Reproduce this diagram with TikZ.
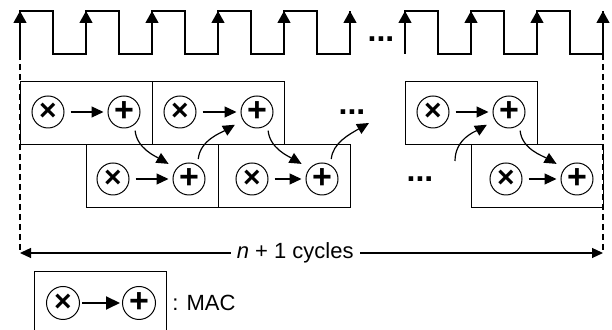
\documentclass[tikz,border=0pt]{standalone}
\usepackage{fontspec}
\setmainfont{Liberation Sans}
\usetikzlibrary{arrows.meta}

\begin{document}
\begin{tikzpicture}[
    x=0.5pt, y=0.5pt,
    font=\fontsize{11}{13}\selectfont,
    wave/.style={line width=0.6pt},
    rise/.style={line width=0.6pt, -{Triangle[length=6pt,width=6.5pt]}},
    guide/.style={line width=0.6pt, dash pattern=on 3pt off 2pt},
    span/.style={line width=0.6pt, {Triangle[length=5.5pt,width=5pt]}-{Triangle[length=5.5pt,width=5pt]}},
    mac/.style={draw, line width=0.5pt, minimum width=66pt, minimum height=31.5pt, inner sep=0pt},
    op/.style={circle, draw, line width=0.5pt, minimum size=16pt, inner sep=0pt},
    opmul/.style={op, font=\fontsize{15}{15}\selectfont\bfseries},
    opadd/.style={op, font=\fontsize{17}{17}\selectfont\bfseries},
    flow/.style={line width=0.6pt, -{Triangle[length=6pt,width=5.5pt]}, shorten <=3pt, shorten >=2pt},
    carry/.style={line width=0.6pt, -{Triangle[length=6pt,width=5.5pt]}, shorten <=3pt, shorten >=4.5pt},
    ellip/.style={font=\fontsize{16}{16}\selectfont\bfseries, inner sep=0pt}
]
\useasboundingbox (0,0) rectangle (612,330);

% hodiny
\draw[wave] (20,276) -- (20,319) -- (53,319) -- (53,276) -- (86,276) -- (86,319)
  -- (119,319) -- (119,276) -- (152,276) -- (152,319) -- (185,319) -- (185,276)
  -- (218,276) -- (218,319) -- (251,319) -- (251,276) -- (284,276) -- (284,319)
  -- (317,319) -- (317,276) -- (350,276) -- (350,319);
\draw[wave] (405,276) -- (405,319) -- (438,319) -- (438,276) -- (471,276) -- (471,319)
  -- (504,319) -- (504,276) -- (537,276) -- (537,319) -- (570,319) -- (570,276)
  -- (603,276) -- (603,319);
\draw[rise] (20,276) -- (20,319);
\draw[rise] (86,276) -- (86,319);
\draw[rise] (152,276) -- (152,319);
\draw[rise] (218,276) -- (218,319);
\draw[rise] (284,276) -- (284,319);
\draw[rise] (350,276) -- (350,319);
\draw[rise] (405,276) -- (405,319);
\draw[rise] (471,276) -- (471,319);
\draw[rise] (537,276) -- (537,319);
\draw[rise] (603,276) -- (603,319);
\node[ellip] (clkdots) at (381,291) {...};

% hranice
\coordinate (gl) at (20,276);
\coordinate (gr) at (603,276);
\coordinate (dl) at (20,77);
\coordinate (dr) at (603,77);
\draw[guide] (gl) -- (dl);
\draw[guide] (gr) -- (dr);
\draw[span] (dl) -- node[fill=white, pos=0.472, inner sep=3pt] (cyc) {\textit{n} + 1 cycles} (dr);

% MAC bloky
\node[mac] (m1) at (86,216.5) {};
\node[mac] (m2) at (218,216.5) {};
\node[mac] (m3) at (152,153.5) {};
\node[mac] (m4) at (284,153.5) {};
\node[mac] (m5) at (471,216.5) {};
\node[mac] (m6) at (537,153.5) {};

\node[opmul] (m1x) at (48,218) {×};
\node[opadd] (m1p) at (124,218) {+};
\node[opmul] (m2x) at (180,218) {×};
\node[opadd] (m2p) at (257,218) {+};
\node[opmul] (m3x) at (113,151) {×};
\node[opadd] (m3p) at (189,151) {+};
\node[opmul] (m4x) at (252,151) {×};
\node[opadd] (m4p) at (322,151) {+};
\node[opmul] (m5x) at (433,218) {×};
\node[opadd] (m5p) at (509,218) {+};
\node[opmul] (m6x) at (506,151) {×};
\node[opadd] (m6p) at (577,151) {+};

\draw[flow] (m1x) -- (m1p);
\draw[flow] (m2x) -- (m2p);
\draw[flow] (m3x) -- (m3p);
\draw[flow] (m4x) -- (m4p);
\draw[flow] (m5x) -- (m5p);
\draw[flow] (m6x) -- (m6p);

% prenosy medzi blokmi
\coordinate (f1) at (369,207);
\coordinate (f2) at (455,169);
\draw[carry] (m1p.-50) to[out=-85, in=150] (m3p.140);
\draw[carry] (m3p.58) to[out=85, in=-150] (m2p.-150);
\draw[carry] (m2p.-50) to[out=-85, in=150] (m4p.140);
\draw[carry, shorten >=0pt] (m4p.58) to[out=85, in=-150] (f1);
\draw[carry, shorten <=0pt] (f2) to[out=90, in=-150] (m5p.-150);
\draw[carry] (m5p.-50) to[out=-85, in=150] (m6p.140);

\node[ellip] (topdots) at (352,218) {...};
\node[ellip] (botdots) at (420,151) {...};

% legenda
\node[mac] (lg) at (100,27) {};
\node[opmul, minimum size=16.5pt] (lgx) at (63,27) {×};
\node[opadd, minimum size=16.5pt] (lgp) at (139,27) {+};
\draw[flow, line width=1pt, -{Triangle[length=7pt,width=6.5pt]}, shorten <=1pt, shorten >=1pt] (lgx) -- (lgp);
\node[anchor=west, inner sep=0pt] (lgt) at (172,27) {: MAC};

\end{tikzpicture}
\end{document}
